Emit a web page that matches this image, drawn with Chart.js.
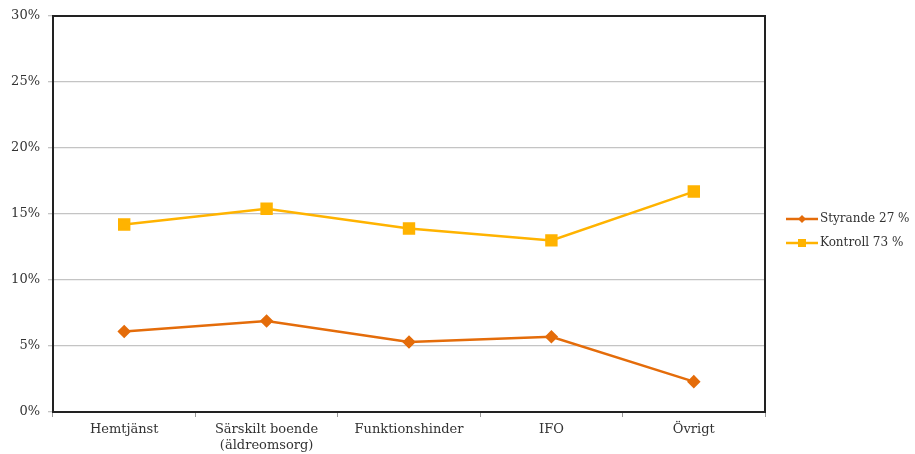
<!DOCTYPE html>
<html>
<head>
<meta charset="utf-8">
<script src="https://cdn.jsdelivr.net/npm/chart.js@4/dist/chart.umd.min.js"></script>
<style>
  html, body { margin: 0; padding: 0; background: #fff; }
  #wrap { width: 915px; height: 454px; position: relative; }
</style>
</head>
<body>
<div id="wrap"><canvas id="chart"></canvas></div>
<script>
const categories = ["Hemtjänst", ["Särskilt boende", "(äldreomsorg)"], "Funktionshinder", "IFO", "Övrigt"];
const styrande = [6.1, 6.9, 5.3, 5.7, 2.3];
const kontroll = [14.2, 15.4, 13.9, 13.0, 16.7];
const seriesNames = ["Styrande 27 %", "Kontroll 73 %"];
const yTicks = [0, 5, 10, 15, 20, 25, 30];

const textColor = "#333";
const serif = "'DejaVu Serif', 'Liberation Serif', serif";

// frame round the plot plus a line/marker legend on the right
const framePlugin = {
    id: "frame",
    afterDraw(chart) {
        const { ctx, chartArea: a } = chart;
        ctx.save();
        ctx.strokeStyle = "#222";
        ctx.lineWidth = 2;
        ctx.strokeRect(a.left, a.top, a.right - a.left, a.bottom - a.top);

        ctx.font = "12px " + serif;
        ctx.textBaseline = "middle";
        chart.data.datasets.forEach((ds, i) => {
            const y = 219 + i * 24;
            const x0 = 786, x1 = 818;
            ctx.strokeStyle = ds.borderColor;
            ctx.lineWidth = 2.5;
            ctx.beginPath();
            ctx.moveTo(x0, y);
            ctx.lineTo(x1, y);
            ctx.stroke();
            ctx.fillStyle = ds.borderColor;
            const cx = (x0 + x1) / 2;
            if (ds.pointStyle === "rectRot") {
                ctx.beginPath();
                ctx.moveTo(cx, y - 4);
                ctx.lineTo(cx + 4, y);
                ctx.lineTo(cx, y + 4);
                ctx.lineTo(cx - 4, y);
                ctx.closePath();
                ctx.fill();
            } else {
                ctx.fillRect(cx - 4, y - 4, 8, 8);
            }
            ctx.fillStyle = textColor;
            ctx.fillText(ds.label, x1 + 2, y);
        });
        ctx.restore();
    },
};

new Chart(document.getElementById("chart"), {
    type: "line",
    data: {
        labels: categories,
        datasets: [
            {
                label: seriesNames[0],
                data: styrande,
                borderColor: "#E46C0A",
                backgroundColor: "#E46C0A",
                borderWidth: 2.5,
                pointStyle: "rectRot",
                pointRadius: 5,
                pointHoverRadius: 5,
                tension: 0,
            },
            {
                label: seriesNames[1],
                data: kontroll,
                borderColor: "#FFB300",
                backgroundColor: "#FFB300",
                borderWidth: 2.5,
                pointStyle: "rect",
                pointRadius: 7,
                pointHoverRadius: 7,
                tension: 0,
            },
        ],
    },
    options: {
        responsive: true,
        maintainAspectRatio: false,
        animation: false,
        layout: {
            padding: { top: 16, right: 150, bottom: 0, left: 0 },
        },
        plugins: {
            legend: { display: false },
            tooltip: { enabled: false },
        },
        scales: {
            x: {
                offset: true,
                afterFit: (s) => { s.height = 42; },
                grid: {
                    offset: true,
                    drawOnChartArea: false,
                    drawTicks: true,
                    tickLength: 5,
                    color: "#999",
                },
                border: { color: "#222", width: 2 },
                ticks: {
                    color: textColor,
                    font: { family: serif, size: 13 },
                    padding: 5,
                    maxRotation: 0,
                    autoSkip: false,
                },
            },
            y: {
                min: yTicks[0],
                max: yTicks[yTicks.length - 1],
                afterFit: (s) => { s.width = 53; },
                afterBuildTicks: (s) => { s.ticks = yTicks.map((v) => ({ value: v })); },
                grid: {
                    color: "#c4c4c4",
                    lineWidth: 1.3,
                    tickLength: 5,
                },
                border: { color: "#222", width: 2 },
                ticks: {
                    color: textColor,
                    font: { family: serif, size: 13 },
                    padding: 8,
                    callback: (v) => v + "%",
                },
            },
        },
    },
    plugins: [framePlugin],
});
</script>
</body>
</html>
